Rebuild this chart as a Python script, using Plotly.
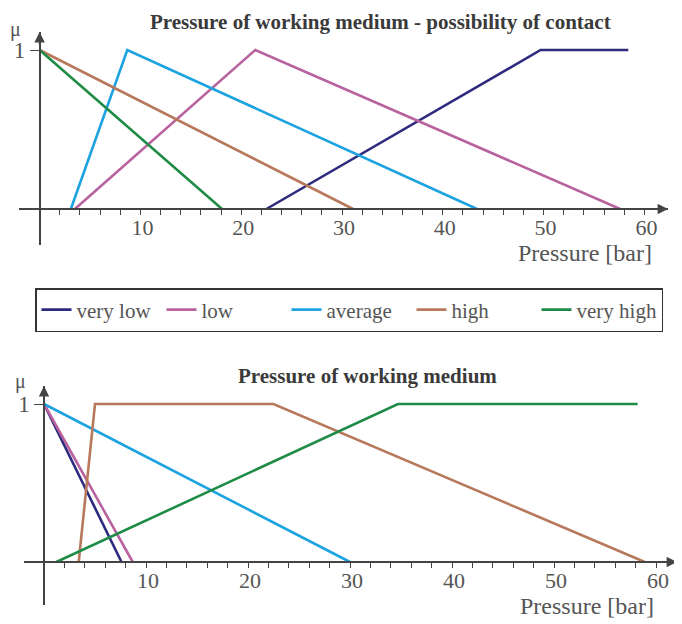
import plotly.graph_objects as go

# ---------------- data ----------------
series_names = ["very low", "low", "average", "high", "very high"]
series_colors = ["#2e2a7e", "#b8629f", "#1ca3e0", "#b7785c", "#1f8c46"]

# Top chart: Pressure of working medium - possibility of contact
top_very_low_x = [22.5, 49.7, 58.4]
top_very_low_y = [0, 1, 1]
top_low_x = [3.5, 21.4, 57.6]
top_low_y = [0, 1, 0]
top_average_x = [3.1, 8.7, 43.4]
top_average_y = [0, 1, 0]
top_high_x = [0, 31.1]
top_high_y = [1, 0]
top_very_high_x = [0, 18.1]
top_very_high_y = [1, 0]

# Bottom chart: Pressure of working medium
bot_very_low_x = [0, 7.6]
bot_very_low_y = [1, 0]
bot_low_x = [0, 8.7]
bot_low_y = [1, 0]
bot_average_x = [0, 30.0]
bot_average_y = [1, 0]
bot_high_x = [3.4, 5.0, 22.5, 58.9]
bot_high_y = [0, 1, 1, 0]
bot_very_high_x = [1.2, 34.7, 58.2]
bot_very_high_y = [0, 1, 1]

x_tick_vals = [10, 20, 30, 40, 50, 60]
x_tick_text = ["10", "20", "30", "40", "50", "60"]
x_minor_vals = [2, 4, 6, 8, 12, 14, 16, 18, 22, 24, 26, 28, 32, 34, 36, 38,
                42, 44, 46, 48, 52, 54, 56, 58]
y_tick_vals = [1]
y_tick_text = ["1"]

top_title = "Pressure of working medium - possibility of contact"
bot_title = "Pressure of working medium"
x_label = "Pressure [bar]"
y_label = "μ"

# ---------------- figure ----------------
OFF = 8                       # page body margin of the html page
W, H = 682 - OFF, 624 - OFF
FONT = "Liberation Serif, Times New Roman, serif"
AX = "#444444"
TXT = "#555555"

def px(x):
    return (x - OFF) / W

def py(y):
    return 1 - (y - OFF) / H

fig = go.Figure()

top = [(top_very_low_x, top_very_low_y), (top_low_x, top_low_y),
       (top_average_x, top_average_y), (top_high_x, top_high_y),
       (top_very_high_x, top_very_high_y)]
bot = [(bot_very_low_x, bot_very_low_y), (bot_low_x, bot_low_y),
       (bot_average_x, bot_average_y), (bot_high_x, bot_high_y),
       (bot_very_high_x, bot_very_high_y)]

for i, (xs, ys) in enumerate(top):
    fig.add_trace(go.Scatter(x=xs, y=ys, mode="lines", name=series_names[i],
                             line=dict(color=series_colors[i], width=2.6),
                             xaxis="x", yaxis="y", showlegend=True,
                             hoverinfo="skip"))
for i, (xs, ys) in enumerate(bot):
    fig.add_trace(go.Scatter(x=xs, y=ys, mode="lines", name=series_names[i],
                             line=dict(color=series_colors[i], width=2.6),
                             xaxis="x2", yaxis="y2", showlegend=False,
                             hoverinfo="skip"))

def xaxis_cfg(domain, rng, pos):
    return dict(domain=domain, range=rng, anchor="free", position=pos,
                showline=True, linecolor=AX, linewidth=1.5,
                showgrid=False, zeroline=False,
                tickmode="array", tickvals=x_tick_vals, ticktext=x_tick_text,
                ticks="outside", ticklen=5, tickwidth=1.3, tickcolor=AX,
                ticklabelshift=2, ticklabelstandoff=-6,
                minor=dict(tickmode="array", tickvals=x_minor_vals,
                           ticks="outside", ticklen=5, tickwidth=1.3,
                           tickcolor=AX),
                tickfont=dict(family=FONT, size=22, color=TXT),
                fixedrange=True)

def yaxis_cfg(domain, rng, pos):
    return dict(domain=domain, range=rng, anchor="free", position=pos,
                showline=True, linecolor=AX, linewidth=1.5,
                showgrid=False, zeroline=False,
                tickmode="array", tickvals=y_tick_vals, ticktext=y_tick_text,
                ticks="outside", ticklen=9, tickwidth=1.3, tickcolor=AX,
                tickfont=dict(family=FONT, size=23, color=TXT),
                fixedrange=True)

# geometry in reference pixels
t_x0, t_scale = 39.6, 10.08
t_left, t_right = 19, 668
t_y0, t_y1 = 209, 50
t_top, t_bot = 32, 245
t_ys = t_y0 - t_y1

b_x0, b_scale = 44, 10.2
b_left, b_right = 24, 677
b_y0, b_y1 = 562, 404
b_top, b_bot = 386, 605
b_ys = b_y0 - b_y1

top_xr = [-(t_x0 - t_left) / t_scale, (t_right - t_x0) / t_scale]
top_yr = [-(t_bot - t_y0) / t_ys, 1 + (t_y1 - t_top) / t_ys]
bot_xr = [-(b_x0 - b_left) / b_scale, (b_right - b_x0) / b_scale]
bot_yr = [-(b_bot - b_y0) / b_ys, 1 + (b_y1 - b_top) / b_ys]

fig.update_layout(
    xaxis=xaxis_cfg([px(t_left), px(t_right)], top_xr, py(t_y0)),
    yaxis=yaxis_cfg([py(t_bot), py(t_top)], top_yr, px(t_x0)),
    xaxis2=xaxis_cfg([px(b_left), px(b_right)], bot_xr, py(b_y0)),
    yaxis2=yaxis_cfg([py(b_bot), py(b_top)], bot_yr, px(b_x0)),
)

annotations = []
# axis arrows
for xr, yr, xa, ya in [(top_xr, top_yr, "x", "y"), (bot_xr, bot_yr, "x2", "y2")]:
    annotations.append(dict(x=xr[1], y=0, xref=xa, yref=ya, text="",
                            showarrow=True, ax=-14, ay=0, arrowhead=2,
                            arrowsize=1.3, arrowwidth=1.6, arrowcolor=AX,
                            standoff=0))
    annotations.append(dict(x=0, y=yr[1], xref=xa, yref=ya, text="",
                            showarrow=True, ax=0, ay=14, arrowhead=2,
                            arrowsize=1.3, arrowwidth=1.6, arrowcolor=AX,
                            standoff=0))

# titles
annotations.append(dict(x=px(381), y=1, xref="paper", yref="paper",
                        text="<b>" + top_title + "</b>", showarrow=False,
                        xanchor="center", yanchor="top",
                        font=dict(family=FONT, size=21, color="#3a3a3a")))
annotations.append(dict(x=px(367), y=py(376), xref="paper", yref="paper",
                        text="<b>" + bot_title + "</b>", showarrow=False,
                        xanchor="center", yanchor="middle",
                        font=dict(family=FONT, size=21, color="#3a3a3a")))
# axis labels
for mx, my, lx, ly in [(15, 30, 654, 253), (20, 381, 656, 606)]:
    annotations.append(dict(x=px(mx), y=py(my), xref="paper", yref="paper",
                            text=y_label, showarrow=False,
                            xanchor="center", yanchor="middle",
                            font=dict(family=FONT, size=20, color=TXT)))
    annotations.append(dict(x=px(lx), y=py(ly), xref="paper", yref="paper",
                            text=x_label, showarrow=False,
                            xanchor="right", yanchor="middle",
                            font=dict(family=FONT, size=24, color=TXT)))

fig.update_layout(
    width=W, height=H,
    margin=dict(l=0, r=0, t=0, b=0),
    paper_bgcolor="white", plot_bgcolor="white",
    annotations=annotations,
    showlegend=True,
    legend=dict(orientation="h", x=px(35), y=py(310), xanchor="left",
                yanchor="middle", bordercolor="#333333", borderwidth=1.5,
                bgcolor="white",
                font=dict(family=FONT, size=21, color=TXT),
                entrywidthmode="pixels", entrywidth=80,
                itemclick=False, itemdoubleclick=False),
)

fig.write_html("out.html")
